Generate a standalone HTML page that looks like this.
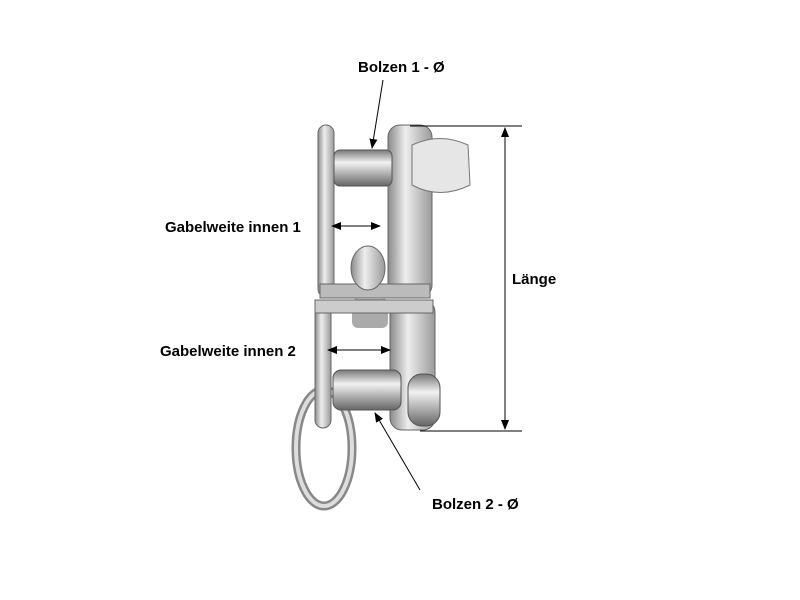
<!DOCTYPE html>
<html><head><style>body{margin:0;background:#fff}svg{display:block}</style></head><body>
<svg width="800" height="600" viewBox="0 0 800 600" xmlns="http://www.w3.org/2000/svg" font-family="Liberation Sans, sans-serif" font-weight="bold" font-size="15">
<defs>
<linearGradient id="m" x1="0" x2="1"><stop offset="0" stop-color="#8a8a8a"/><stop offset=".4" stop-color="#eeeeee"/><stop offset="1" stop-color="#9a9a9a"/></linearGradient>
<linearGradient id="p" x1="0" y1="0" x2="0" y2="1"><stop offset="0" stop-color="#777"/><stop offset=".35" stop-color="#f2f2f2"/><stop offset="1" stop-color="#666"/></linearGradient>
<marker id="a" markerWidth="10" markerHeight="8" refX="9" refY="4" orient="auto"><path d="M0,0L10,4L0,8z" fill="#000"/></marker>
</defs>
<!-- ring -->
<ellipse cx="324" cy="448" rx="28" ry="58" fill="none" stroke="#888" stroke-width="9"/>
<ellipse cx="324" cy="448" rx="28" ry="58" fill="none" stroke="#ddd" stroke-width="4"/>
<!-- upper fork -->
<rect x="318" y="125" width="16" height="172" rx="8" fill="url(#m)" stroke="#666"/>
<rect x="388" y="125" width="44" height="172" rx="12" fill="url(#m)" stroke="#666"/>
<rect x="320" y="284" width="110" height="14" fill="#bbb" stroke="#666"/>
<rect x="334" y="150" width="58" height="36" rx="6" fill="url(#p)" stroke="#555"/>
<path d="M412,145 Q440,132 468,145 L470,185 Q440,200 412,185z" fill="#e6e6e6" stroke="#777"/>
<ellipse cx="368" cy="268" rx="17" ry="22" fill="url(#m)" stroke="#666"/>
<!-- lower fork -->
<rect x="352" y="298" width="36" height="30" rx="6" fill="#aaa"/>
<rect x="315" y="300" width="16" height="128" rx="8" fill="url(#m)" stroke="#666"/>
<rect x="390" y="300" width="45" height="130" rx="12" fill="url(#m)" stroke="#666"/>
<rect x="315" y="300" width="118" height="13" fill="#ccc" stroke="#666"/>
<rect x="333" y="370" width="68" height="40" rx="8" fill="url(#p)" stroke="#555"/>
<rect x="408" y="374" width="32" height="52" rx="14" fill="url(#p)" stroke="#555"/>
<!-- dimension lines -->
<g stroke="#000" stroke-width="1" fill="none">
<line x1="410" y1="126" x2="522" y2="126"/>
<line x1="420" y1="431" x2="522" y2="431"/>
<line x1="505" y1="140" x2="505" y2="417"/>
<line x1="505" y1="140" x2="505" y2="128" marker-end="url(#a)"/>
<line x1="505" y1="417" x2="505" y2="429" marker-end="url(#a)"/>
<line x1="383" y1="80" x2="372" y2="148" marker-end="url(#a)"/>
<line x1="420" y1="490" x2="375" y2="413" marker-end="url(#a)"/>
<line x1="355" y1="226" x2="332" y2="226" marker-end="url(#a)"/>
<line x1="355" y1="226" x2="380" y2="226" marker-end="url(#a)"/>
<line x1="355" y1="350" x2="328" y2="350" marker-end="url(#a)"/>
<line x1="355" y1="350" x2="390" y2="350" marker-end="url(#a)"/>
</g>
<text x="358" y="72">Bolzen 1 - Ø</text>
<text x="165" y="232">Gabelweite innen 1</text>
<text x="160" y="356">Gabelweite innen 2</text>
<text x="512" y="284">Länge</text>
<text x="432" y="509">Bolzen 2 - Ø</text>
</svg>
</body></html>
